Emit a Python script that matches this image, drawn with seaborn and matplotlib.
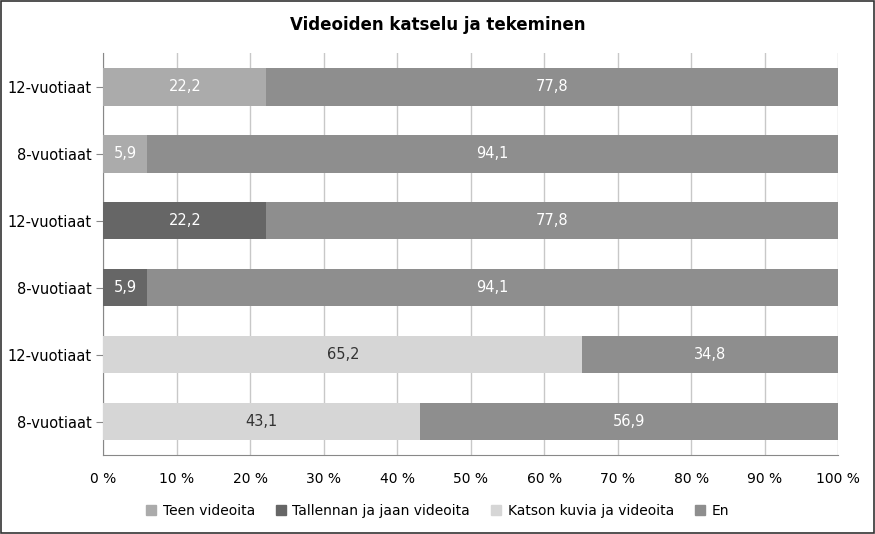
import matplotlib
matplotlib.use("Agg")
import matplotlib.pyplot as plt
import seaborn as sns
import pandas as pd
from matplotlib.patches import Patch

row_labels = ["12-vuotiaat", "8-vuotiaat", "12-vuotiaat", "8-vuotiaat", "12-vuotiaat", "8-vuotiaat"]
first_values = [22.2, 5.9, 22.2, 5.9, 65.2, 43.1]
en_values = [77.8, 94.1, 77.8, 94.1, 34.8, 56.9]
first_series = ["Teen videoita", "Teen videoita", "Tallennan ja jaan videoita",
                "Tallennan ja jaan videoita", "Katson kuvia ja videoita", "Katson kuvia ja videoita"]
series_names = ["Teen videoita", "Tallennan ja jaan videoita", "Katson kuvia ja videoita", "En"]
colors = {"Teen videoita": "#ababab", "Tallennan ja jaan videoita": "#666666",
          "Katson kuvia ja videoita": "#d6d6d6", "En": "#8e8e8e"}

df = pd.DataFrame({"row": [str(i) for i in range(len(row_labels))],
                   "first": first_values, "en": en_values, "series": first_series})
df["total"] = df["first"] + df["en"]

fig = plt.figure(figsize=(8.75, 5.34), dpi=100)
ax = fig.add_axes([0.118, 0.148, 0.840, 0.752])
fig.patches.append(plt.Rectangle((0.001, 0.001), 0.998, 0.998, transform=fig.transFigure,
                                 fill=False, edgecolor="#333333", linewidth=1.2))

sns.barplot(data=df, x="total", y="row", color=colors["En"], width=0.56, ax=ax, zorder=2)
sns.barplot(data=df, x="first", y="row", hue="series", palette=colors, width=0.56,
            dodge=False, legend=False, ax=ax, zorder=3)

for i, r in df.iterrows():
    first_col = "#333333" if r["series"] == "Katson kuvia ja videoita" else "white"
    ax.text(r["first"] / 2, i, f"{r['first']:.1f}".replace(".", ","), color=first_col,
            ha="center", va="center", fontsize=10.5, zorder=4)
    ax.text(r["first"] + r["en"] / 2, i, f"{r['en']:.1f}".replace(".", ","), color="white",
            ha="center", va="center", fontsize=10.5, zorder=4)

ax.set_xlim(0, 100)
ax.set_xticks(range(0, 101, 10))
ax.set_xticklabels([f"{v} %" for v in range(0, 101, 10)], fontsize=10)
ax.set_yticks(range(len(row_labels)))
ax.set_yticklabels(row_labels, fontsize=10.5)
ax.set_xlabel("")
ax.set_ylabel("")
ax.grid(axis="x", color="#c8c8c8", linewidth=1, zorder=0)
ax.set_axisbelow(True)
for s in ["top", "right"]:
    ax.spines[s].set_visible(False)
ax.spines["left"].set_color("#888888")
ax.spines["bottom"].set_color("#888888")
ax.tick_params(axis="y", length=5, color="#888888")
ax.tick_params(axis="x", length=0, pad=12)

fig.text(0.5, 0.953, "Videoiden katselu ja tekeminen", ha="center", va="center",
         fontsize=12, fontweight="bold")

handles = [Patch(color=colors[n]) for n in series_names]
fig.legend(handles, series_names, loc="center", ncol=4, frameon=False,
           bbox_to_anchor=(0.5, 0.043), fontsize=10, handlelength=0.7, handleheight=0.7,
           columnspacing=1.5, handletextpad=0.5)

fig.savefig("out.png", dpi=100)
